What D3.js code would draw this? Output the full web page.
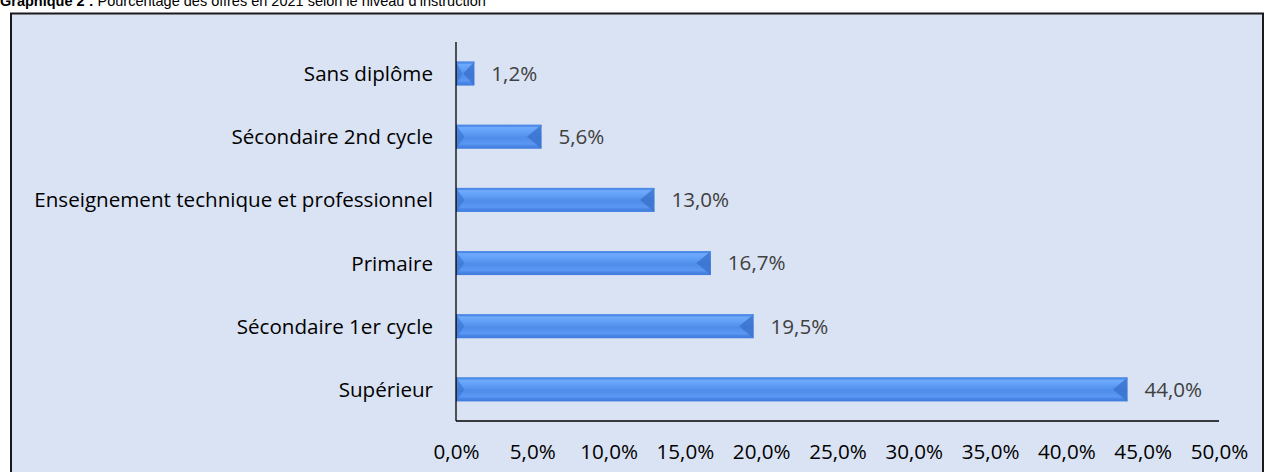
<!DOCTYPE html>
<html><head><meta charset="utf-8">
<script src="https://cdn.jsdelivr.net/npm/d3@7"></script>
<style>
html,body{margin:0;padding:0;background:#fff;}
svg{display:block;}
</style></head>
<body>
<svg id="c" width="1265" height="472"></svg>
<script>
const categories = ["Sans diplôme","Sécondaire 2nd cycle","Enseignement technique et professionnel","Primaire","Sécondaire 1er cycle","Supérieur"];
const values = [1.2, 5.6, 13.0, 16.7, 19.5, 44.0];
const tickValues = [0,5,10,15,20,25,30,35,40,45,50];
const titleBold = "Graphique 2 :";
const titleRest = " Pourcentage des offres en 2021 selon le niveau d’instruction";

const fmt = v => d3.format(".1f")(v).replace(".", ",") + "%";
const svg = d3.select("#c");
const font = "'Open Sans', sans-serif";
const fs = "20.6px";

// title
const t = svg.append("text").attr("x", 0).attr("y", 6)
  .style("font-family", "'Liberation Sans', Arial, sans-serif").style("font-size", "14.5px").attr("fill", "#000");
t.append("tspan").attr("font-weight", "bold").text(titleBold);
t.append("tspan").text(titleRest);

// frame
svg.append("rect").attr("x", 11).attr("y", 13.5).attr("width", 1252).attr("height", 470)
  .attr("fill", "#dae3f3").attr("stroke", "#1a1a1a").attr("stroke-width", 2);

const x0 = 456, x1 = 1219, y0 = 42, y1 = 421;
const x = d3.scaleLinear().domain([0, 50]).range([x0, x1]);
const y = d3.scaleBand().domain(categories).range([y0, y1]).paddingInner(0.62).paddingOuter(0.31);

const defs = svg.append("defs");
const g = defs.append("linearGradient").attr("id", "bg").attr("x1", 0).attr("x2", 0).attr("y1", 0).attr("y2", 1);
[[0, "#5a95ee"], [0.12, "#6eaafc"], [0.3, "#61a0f7"], [0.55, "#4f8cea"], [0.8, "#5a98f3"], [0.88, "#4a86e6"], [1, "#3f7bdc"]]
  .forEach(([o, c]) => g.append("stop").attr("offset", o).attr("stop-color", c));

const bars = svg.append("g").selectAll("g").data(categories).join("g");
bars.each(function(c, i) {
  const gg = d3.select(this);
  const bx = x(0), bw = x(values[i]) - x(0), by = y(c), bh = y.bandwidth();
  const b = Math.min(bh / 2, bw / 2, 12);
  gg.append("rect").attr("x", bx).attr("y", by).attr("width", bw).attr("height", bh).attr("fill", "url(#bg)");
  gg.append("polygon").attr("points", `${bx},${by} ${bx + b * 0.7},${by + bh / 2} ${bx},${by + bh}`).attr("fill", "#3d76d2").attr("opacity", 0.7);
  gg.append("polygon").attr("points", `${bx + bw},${by} ${bx + bw - b * 1.2},${by + bh / 2} ${bx + bw},${by + bh}`).attr("fill", "#3a72cc").attr("opacity", 0.8);
  gg.append("rect").attr("x", bx).attr("y", by).attr("width", bw).attr("height", 2).attr("fill", "#4f8be6");
});

// value labels
svg.append("g").selectAll("text").data(categories).join("text")
  .attr("x", (c, i) => x(values[i]) + 17).attr("y", c => y(c) + y.bandwidth() / 2)
  .attr("dy", "0.36em").style("font-family", font).style("font-size", fs).attr("fill", "#404040")
  .text((c, i) => fmt(values[i]));

// category axis
const ya = svg.append("g").attr("transform", `translate(${x0},0)`)
  .call(d3.axisLeft(y).tickSize(0).tickPadding(23));
ya.select(".domain").attr("stroke", "#000").attr("stroke-width", 1.3).attr("d", `M0,${y0}V${y1}`);
ya.selectAll("text").attr("dy", "0.36em").style("font-family", font).style("font-size", fs).attr("fill", "#000");

// value axis
const xa = svg.append("g").attr("transform", `translate(0,${y1})`)
  .call(d3.axisBottom(x).tickValues(tickValues).tickSize(0).tickPadding(23).tickFormat(fmt));
xa.select(".domain").attr("stroke", "#000").attr("stroke-width", 1.3).attr("d", `M${x0},0H${x1}`);
xa.selectAll("text").style("font-family", font).style("font-size", fs).attr("fill", "#000");
</script>
</body></html>
